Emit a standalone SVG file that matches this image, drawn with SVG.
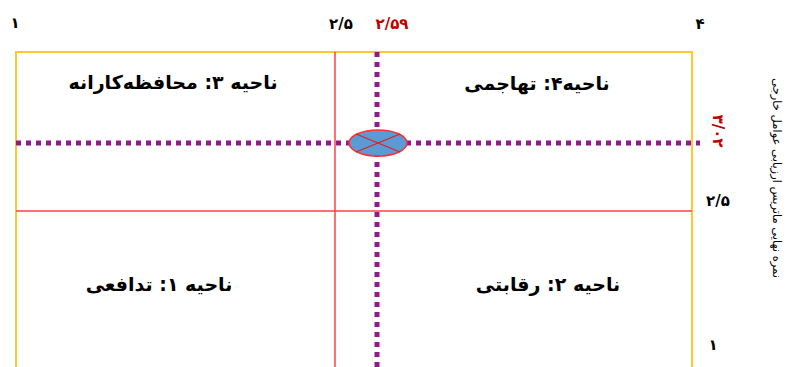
<svg xmlns="http://www.w3.org/2000/svg" width="789" height="367" viewBox="0 0 789 367">
<style>
.t{font-family:"DejaVu Sans","Noto Sans",sans-serif;font-weight:bold;font-size:15px;fill:#000;text-anchor:middle}
.q{font-family:"DejaVu Sans","Noto Sans",sans-serif;font-weight:bold;font-size:19px;fill:#000;text-anchor:middle}
.r{fill:#c00000}
.s{font-family:"DejaVu Sans","Noto Sans",sans-serif;font-size:11.5px;fill:#000;text-anchor:middle}
.dot{stroke:#8e1a8c;stroke-width:5;stroke-dasharray:5 5;fill:none}
.red{stroke:#ff4040;stroke-width:1.5;fill:none}
</style>
<rect width="789" height="367" fill="#fff"/>
<g id="frame">
<path d="M16,367 V52 H692 V367" fill="none" stroke="#ffc830" stroke-width="2"/>
</g>
<g id="connectors">
<line class="red" x1="335" y1="52" x2="335" y2="367"/>
<line class="red" x1="16" y1="211" x2="692" y2="211"/>
<line class="dot" x1="377" y1="52" x2="377" y2="367"/>
<line class="dot" x1="16" y1="143" x2="700" y2="143"/>
</g>
<g id="point">
<ellipse cx="378" cy="143" rx="29" ry="13" fill="#5b9bd5" stroke="#ff3030" stroke-width="1.5"/>
<line x1="356" y1="134" x2="400" y2="152" stroke="#e02020" stroke-width="1.3"/>
<line x1="356" y1="152" x2="400" y2="134" stroke="#e02020" stroke-width="1.3"/>
</g>
<g id="axis-labels">
<text class="t" x="15" y="28">۱</text>
<text class="t" x="341" y="29">۲/۵</text>
<text class="t r" x="392" y="29">۲/۵۹</text>
<text class="t" x="700" y="29">۴</text>
<text class="t r" transform="translate(713,131) rotate(90)">۳/۰۲</text>
<text class="t" x="718" y="206">۲/۵</text>
<text class="t" x="713" y="350">۱</text>
<text class="s" transform="translate(773,178) rotate(90)" direction="rtl">نمره نهایی ماتریس ارزیابی عوامل خارجی</text>
</g>
<g id="q3"><text class="q" x="173" y="89" direction="rtl">ناحیه ۳: محافظه‌کارانه</text></g>
<g id="q4"><text class="q" x="537" y="90" direction="rtl">ناحیه۴: تهاجمی</text></g>
<g id="q1"><text class="q" x="159" y="291" direction="rtl">ناحیه ۱: تدافعی</text></g>
<g id="q2"><text class="q" x="548" y="291" direction="rtl">ناحیه ۲: رقابتی</text></g>
</svg>
